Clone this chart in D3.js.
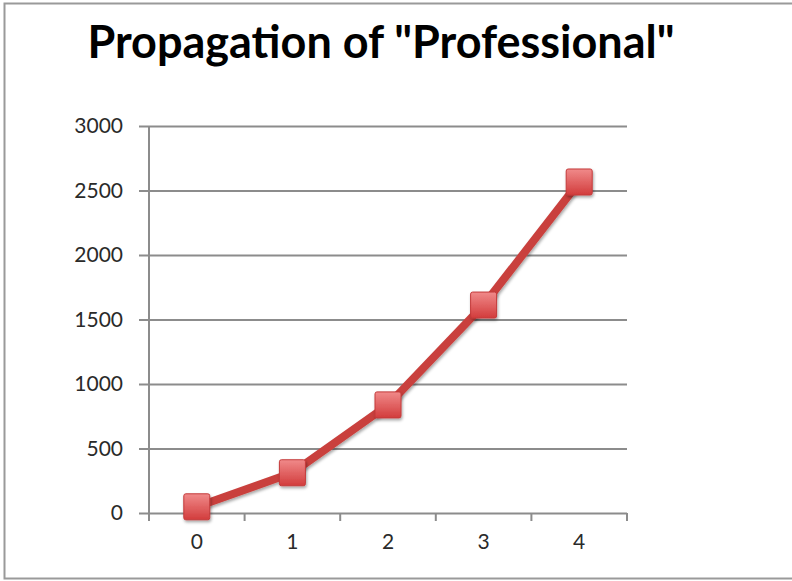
<!DOCTYPE html>
<html>
<head>
<meta charset="utf-8">
<script src="https://d3js.org/d3.v7.min.js"></script>
<style>
  html, body { margin: 0; padding: 0; background: #fff; }
  svg { display: block; }
</style>
</head>
<body>
<script>
// Word propagation by generation
const categories = ["0", "1", "2", "3", "4"];
const values = [48, 312, 838, 1612, 2566];
const yTicks = [0, 500, 1000, 1500, 2000, 2500, 3000];
const title = 'Propagation of "Professional"';

const W = 792, H = 581;
const margin = { left: 149, right: 165, top: 126, bottom: 68 };
const font = "Lato, 'Open Sans', sans-serif";

const svg = d3.select("body").append("svg")
  .attr("width", W).attr("height", H);

const defs = svg.append("defs");
const grad = defs.append("linearGradient")
  .attr("id", "markerFill").attr("x1", 0).attr("y1", 0).attr("x2", 0).attr("y2", 1);
grad.append("stop").attr("offset", "0%").attr("stop-color", "#f08a8a");
grad.append("stop").attr("offset", "100%").attr("stop-color", "#d23c3c");

const shadow = defs.append("filter").attr("id", "shadow")
  .attr("x", "-50%").attr("y", "-50%").attr("width", "200%").attr("height", "200%");
shadow.append("feDropShadow").attr("dx", 1).attr("dy", 2).attr("stdDeviation", 1.5)
  .attr("flood-color", "#000").attr("flood-opacity", 0.35);

// Chart frame (right edge runs past the page)
svg.append("rect")
  .attr("x", 4.5).attr("y", 3.5).attr("width", 800).attr("height", 575)
  .attr("fill", "#fff").attr("stroke", "#9a9a9a").attr("stroke-width", 2);

svg.append("text")
  .attr("x", 381).attr("y", 58)
  .attr("text-anchor", "middle")
  .attr("font-family", font)
  .attr("font-weight", "bold")
  .attr("font-size", 45)
  .attr("fill", "#000")
  .text(title);

const x = d3.scaleBand()
  .domain(categories)
  .range([margin.left, W - margin.right]);

const y = d3.scaleLinear()
  .domain([0, 3000])
  .range([H - margin.bottom, margin.top]);

// Horizontal gridlines with left tick stubs
const yAxis = d3.axisLeft(y)
  .tickValues(yTicks)
  .tickFormat(d3.format("d"))
  .tickSize(-(W - margin.right - margin.left))
  .tickSizeOuter(0)
  .tickPadding(26);

const gy = svg.append("g")
  .attr("transform", `translate(${margin.left},0)`)
  .call(yAxis);
gy.select(".domain").remove();
gy.selectAll(".tick line")
  .attr("x1", -10)
  .attr("stroke", "#8c8c8c").attr("stroke-width", 2);
gy.selectAll(".tick text")
  .attr("font-family", font)
  .attr("font-size", 21)
  .attr("fill", "#2a2a2a");

// Vertical axis line
svg.append("line")
  .attr("x1", margin.left).attr("x2", margin.left)
  .attr("y1", margin.top).attr("y2", H - margin.bottom + 8)
  .attr("stroke", "#8c8c8c").attr("stroke-width", 2);

// Category axis with ticks between categories
const xAxis = d3.axisBottom(x).tickSize(0).tickPadding(21);
const gx = svg.append("g")
  .attr("transform", `translate(0,${H - margin.bottom})`)
  .call(xAxis);
gx.select(".domain").remove();
gx.selectAll(".tick text")
  .attr("font-family", font)
  .attr("font-size", 21)
  .attr("fill", "#2a2a2a");

const boundaries = categories.map(c => x(c)).concat([x(categories[categories.length - 1]) + x.bandwidth()]);
svg.append("g").selectAll("line")
  .data(boundaries)
  .join("line")
  .attr("x1", d => d).attr("x2", d => d)
  .attr("y1", H - margin.bottom).attr("y2", H - margin.bottom + 8)
  .attr("stroke", "#8c8c8c").attr("stroke-width", 2);

// Series line
const line = d3.line()
  .x((d, i) => x(categories[i]) + x.bandwidth() / 2)
  .y(d => y(d));

svg.append("path")
  .datum(values)
  .attr("d", line)
  .attr("fill", "none")
  .attr("stroke", "#c9403d")
  .attr("stroke-width", 8)
  .attr("stroke-linejoin", "round")
  .attr("filter", "url(#shadow)");

// Square markers
const ms = 26;
svg.append("g").selectAll("rect")
  .data(values)
  .join("rect")
  .attr("x", (d, i) => x(categories[i]) + x.bandwidth() / 2 - ms / 2)
  .attr("y", d => y(d) - ms / 2)
  .attr("width", ms).attr("height", ms)
  .attr("rx", 2)
  .attr("fill", "url(#markerFill)")
  .attr("stroke", "#c43a3a").attr("stroke-width", 1)
  .attr("filter", "url(#shadow)");
</script>
</body>
</html>
